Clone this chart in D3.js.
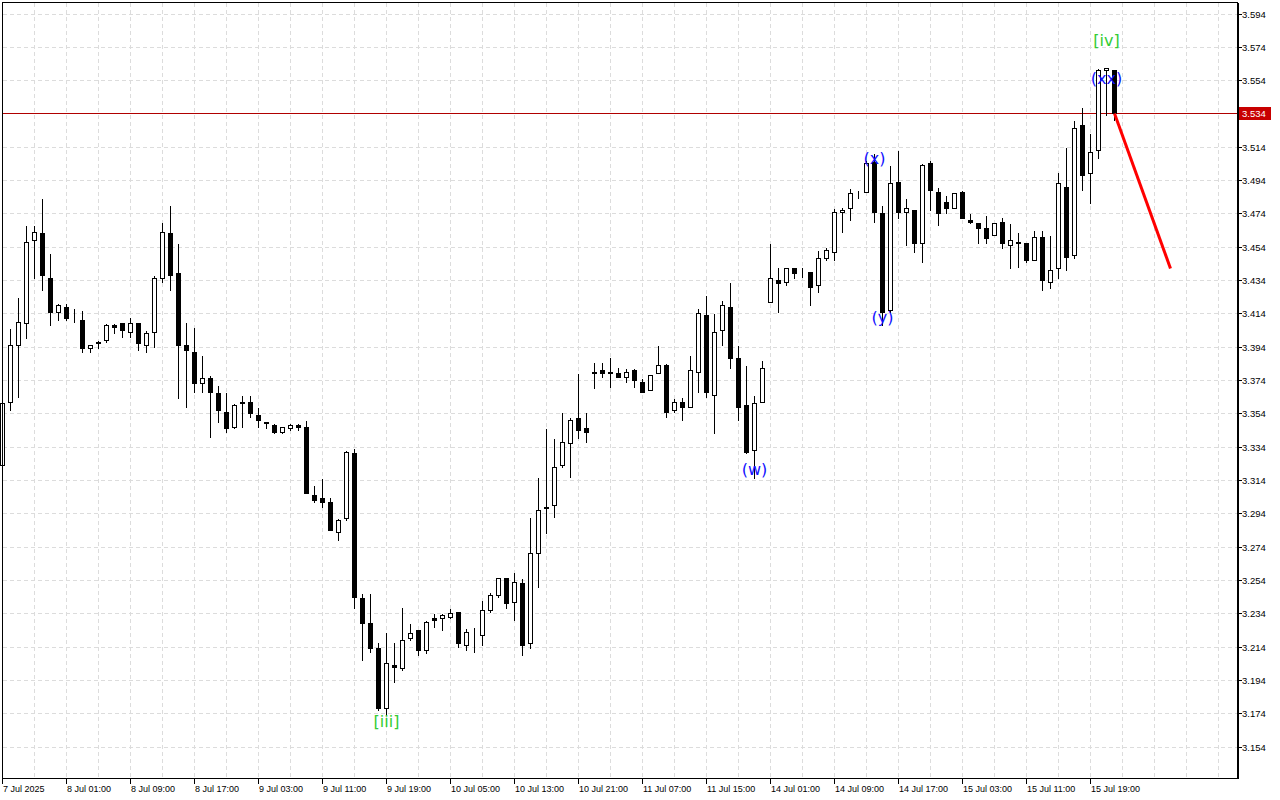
<!DOCTYPE html>
<html><head><meta charset="utf-8">
<script src="https://cdn.jsdelivr.net/npm/d3@7"></script>
<style>body{margin:0;background:#fff}svg{display:block}</style>
</head><body>
<svg id="chart" width="1280" height="800"></svg>
<script>
// ---- DATA ----
const opens = [3.323,3.361,3.395,3.408,3.458,3.462,3.435,3.415,3.418,3.412,3.410,3.393,3.396,3.398,3.407,3.408,3.403,3.408,3.395,3.403,
3.435,3.462,3.438,3.395,3.391,3.372,3.375,3.366,3.355,3.346,3.360,3.361,3.353,3.349,3.347,3.343,3.345,3.347,3.346,3.305,
3.303,3.301,3.283,3.291,3.330,3.243,3.228,3.213,3.177,3.203,3.201,3.219,3.224,3.212,3.231,3.231,3.232,3.235,3.215,3.222,
3.221,3.236,3.245,3.255,3.241,3.252,3.216,3.270,3.297,3.299,3.323,3.336,3.351,3.345,3.378,3.380,3.378,3.378,3.376,3.380,
3.373,3.368,3.378,3.383,3.356,3.361,3.358,3.379,3.413,3.365,3.404,3.418,3.387,3.359,3.332,3.361,3.421,3.434,3.433,3.441,
3.439,3.439,3.431,3.447,3.451,3.475,3.477,3.486,3.487,3.505,3.474,3.416,3.493,3.475,3.476,3.456,3.504,3.487,3.481,3.477,
3.487,3.470,3.468,3.465,3.461,3.469,3.455,3.457,3.456,3.446,3.460,3.433,3.441,3.490,3.449,3.527,3.498,3.512,3.560,3.560];
const highs = [3.362,3.405,3.424,3.467,3.467,3.483,3.450,3.420,3.420,3.417,3.416,3.395,3.398,3.408,3.408,3.408,3.412,3.408,3.404,3.437,
3.469,3.479,3.456,3.409,3.406,3.389,3.377,3.371,3.367,3.360,3.365,3.365,3.358,3.349,3.348,3.346,3.348,3.348,3.350,3.311,
3.315,3.304,3.291,3.332,3.333,3.246,3.246,3.217,3.223,3.217,3.238,3.228,3.224,3.230,3.234,3.234,3.237,3.235,3.225,3.226,
3.242,3.247,3.256,3.256,3.259,3.255,3.292,3.316,3.345,3.339,3.355,3.352,3.378,3.355,3.385,3.385,3.388,3.382,3.381,3.381,
3.375,3.377,3.395,3.384,3.363,3.364,3.389,3.417,3.425,3.414,3.422,3.433,3.395,3.383,3.365,3.386,3.456,3.442,3.442,3.442,
3.442,3.439,3.452,3.454,3.477,3.478,3.489,3.488,3.506,3.510,3.479,3.503,3.512,3.483,3.476,3.504,3.506,3.490,3.485,3.486,
3.488,3.474,3.468,3.473,3.468,3.472,3.468,3.463,3.456,3.464,3.464,3.461,3.499,3.514,3.530,3.538,3.522,3.561,3.562,3.560];
const lows = [3.321,3.356,3.364,3.399,3.435,3.428,3.407,3.410,3.410,3.409,3.391,3.391,3.393,3.397,3.402,3.400,3.400,3.392,3.391,3.394,
3.433,3.428,3.363,3.358,3.367,3.367,3.340,3.349,3.343,3.345,3.346,3.352,3.346,3.345,3.342,3.342,3.344,3.344,3.306,3.301,
3.298,3.284,3.278,3.290,3.237,3.206,3.211,3.176,3.173,3.193,3.200,3.218,3.209,3.210,3.226,3.224,3.231,3.214,3.212,3.211,
3.215,3.235,3.244,3.237,3.230,3.209,3.213,3.250,3.282,3.292,3.322,3.316,3.339,3.337,3.369,3.376,3.370,3.376,3.373,3.370,
3.367,3.368,3.378,3.352,3.355,3.350,3.358,3.367,3.364,3.342,3.395,3.381,3.350,3.330,3.315,3.361,3.421,3.415,3.431,3.435,
3.436,3.419,3.427,3.446,3.446,3.463,3.470,3.483,3.487,3.469,3.407,3.415,3.471,3.455,3.451,3.445,3.476,3.467,3.474,3.477,
3.471,3.468,3.456,3.456,3.461,3.453,3.441,3.442,3.445,3.446,3.428,3.429,3.435,3.440,3.447,3.488,3.480,3.507,3.533,3.530];
const closes = [3.360,3.395,3.409,3.457,3.463,3.437,3.415,3.419,3.411,3.412,3.393,3.395,3.397,3.407,3.406,3.404,3.408,3.396,3.402,3.435,
3.463,3.437,3.395,3.392,3.372,3.375,3.367,3.356,3.345,3.359,3.361,3.354,3.350,3.348,3.343,3.346,3.347,3.346,3.306,3.302,
3.301,3.284,3.290,3.331,3.244,3.228,3.213,3.177,3.204,3.202,3.218,3.222,3.212,3.229,3.230,3.233,3.234,3.216,3.223,3.222,
3.236,3.245,3.255,3.240,3.253,3.215,3.270,3.296,3.298,3.322,3.337,3.350,3.344,3.343,3.379,3.378,3.379,3.376,3.379,3.374,
3.367,3.377,3.383,3.355,3.361,3.358,3.380,3.414,3.367,3.403,3.419,3.387,3.358,3.331,3.360,3.381,3.435,3.432,3.441,3.438,
3.439,3.430,3.447,3.452,3.475,3.476,3.486,3.486,3.504,3.475,3.415,3.492,3.475,3.477,3.456,3.503,3.488,3.474,3.477,3.486,
3.471,3.469,3.465,3.459,3.468,3.456,3.458,3.456,3.446,3.460,3.434,3.440,3.492,3.448,3.525,3.497,3.511,3.560,3.561,3.534];

const xTickIndex = [0,8,16,24,32,40,48,56,64,72,80,88,96,104,112,120,128,136];
const xTickLabels = ["7 Jul 2025","8 Jul 01:00","8 Jul 09:00","8 Jul 17:00","9 Jul 03:00","9 Jul 11:00","9 Jul 19:00",
  "10 Jul 05:00","10 Jul 13:00","10 Jul 21:00","11 Jul 07:00","11 Jul 15:00","14 Jul 01:00","14 Jul 09:00",
  "14 Jul 17:00","15 Jul 03:00","15 Jul 11:00","15 Jul 19:00"];
const yTicks = d3.range(0, 23).map(k => +(3.154 + k * 0.02).toFixed(3));
const currentPrice = 3.534;
const waveText = ["[iii]","(w)","(x)","(y)","[iv]","(xx)"];
const waveIndex = [48, 94, 109, 110, 138, 138];
const wavePrice = [3.169, 3.3207, 3.5073, 3.4119, 3.578, 3.5553];
const waveDegree = ["minor","minute","minute","minute","minor","minute"];
const forecastIndex = [139, 146];
const forecastPrice = [3.534, 3.441];

// ---- CHART ----
const svg = d3.select("#chart");
const L = 2.5, R = 1237, T = 2.5, B = 778.5;
const x = d3.scaleLinear().domain([0, 1]).range([2.5, 10.5]);
const y = d3.scaleLinear().domain([3.154, 3.594]).range([746.8, 13.5]);
const py = v => Math.round(y(v)) + 0.5;

const g = svg.append("g").attr("shape-rendering", "crispEdges");

// grid
const vGrid = d3.range(4, 155, 4);
g.selectAll(".vg").data(vGrid).enter().append("line")
  .attr("x1", d => x(d)).attr("x2", d => x(d)).attr("y1", T).attr("y2", B)
  .attr("stroke", "#dcdcdc").attr("stroke-dasharray", "4,3");
g.selectAll(".hg").data(yTicks).enter().append("line")
  .attr("x1", L).attr("x2", R).attr("y1", d => py(d)).attr("y2", d => py(d))
  .attr("stroke", "#dcdcdc").attr("stroke-dasharray", "4,3");

// current price line
g.append("line").attr("x1", L).attr("x2", R).attr("y1", py(currentPrice)).attr("y2", py(currentPrice))
  .attr("stroke", "#b00000").attr("stroke-width", 1);

// candles
const idx = d3.range(opens.length);
const cg = g.append("g");
cg.selectAll(".wick").data(idx).enter().append("line")
  .attr("x1", i => x(i)).attr("x2", i => x(i))
  .attr("y1", i => py(highs[i])).attr("y2", i => py(lows[i]) + 0.01)
  .attr("stroke", "#000");
cg.selectAll(".body").data(idx).enter().append("rect")
  .attr("x", i => x(i) - 2).attr("width", 4)
  .attr("y", i => Math.min(py(opens[i]), py(closes[i])))
  .attr("height", i => Math.abs(py(opens[i]) - py(closes[i])))
  .attr("fill", i => closes[i] >= opens[i] ? "#fff" : "#000")
  .attr("stroke", "#000");

// frame
g.append("rect").attr("x", L).attr("y", T).attr("width", R - L).attr("height", B - T)
  .attr("fill", "none").attr("stroke", "#000");
g.append("line").attr("x1", R + 0.5).attr("x2", R + 0.5).attr("y1", T).attr("y2", B + 0.5)
  .attr("stroke", "#000").attr("stroke-width", 2);

// y axis ticks + labels
g.selectAll(".yt").data(yTicks).enter().append("line")
  .attr("x1", R + 1).attr("x2", R + 5).attr("y1", d => py(d)).attr("y2", d => py(d)).attr("stroke", "#000");
svg.selectAll(".yl").data(yTicks).enter().append("text")
  .attr("x", R + 5).attr("y", d => py(d)).attr("dy", "0.35em")
  .attr("font-family", "Liberation Sans, Arial, sans-serif").attr("font-size", "9.5px").attr("fill", "#000")
  .text(d => d.toFixed(3));

// price tag
svg.append("rect").attr("x", R + 2).attr("y", py(currentPrice) - 6.5).attr("width", 32).attr("height", 13)
  .attr("fill", "#c80000").attr("shape-rendering", "crispEdges");
svg.append("text").attr("x", R + 5).attr("y", py(currentPrice)).attr("dy", "0.35em")
  .attr("font-family", "Liberation Sans, Arial, sans-serif").attr("font-size", "9.5px").attr("fill", "#fff")
  .text(currentPrice.toFixed(3));

// x axis ticks + labels
g.selectAll(".xt").data(xTickIndex).enter().append("line")
  .attr("x1", i => x(i)).attr("x2", i => x(i)).attr("y1", B).attr("y2", B + 5).attr("stroke", "#000");
svg.selectAll(".xl").data(xTickIndex).enter().append("text")
  .attr("x", i => x(i) + 0.5).attr("y", 792)
  .attr("font-family", "Liberation Sans, Arial, sans-serif").attr("font-size", "9px").attr("fill", "#000")
  .text((d, k) => xTickLabels[k]);

// forecast line
svg.append("line")
  .attr("x1", x(forecastIndex[0])).attr("y1", y(forecastPrice[0]))
  .attr("x2", x(forecastIndex[1])).attr("y2", y(forecastPrice[1]))
  .attr("stroke", "#ff0000").attr("stroke-width", 3);

// wave labels
svg.selectAll(".wl").data(waveText).enter().append("text")
  .attr("x", (d, k) => x(waveIndex[k])).attr("y", (d, k) => y(wavePrice[k])).attr("dy", "0.35em")
  .attr("text-anchor", "middle")
  .attr("font-family", "DejaVu Sans, sans-serif").attr("font-size", "16px")
  .attr("fill", (d, k) => waveDegree[k] === "minor" ? "#33cc33" : "#1010ff")
  .text(d => d);
</script>
</body></html>
